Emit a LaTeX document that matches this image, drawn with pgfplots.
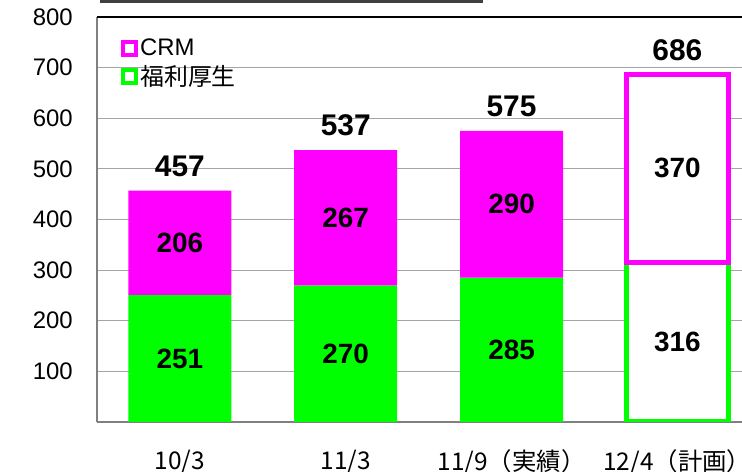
\documentclass[border=0pt]{standalone}
\usepackage{fontspec}
\setmainfont{Liberation Sans}
\newfontfamily\cjk{Noto Sans CJK JP}
\usepackage{pgfplots}
\usepackage{pgfplotstable}
\pgfplotsset{compat=1.18}
\definecolor{mag}{RGB}{255,0,255}
\definecolor{grn}{RGB}{0,255,0}
\definecolor{gridgray}{RGB}{165,165,165}
\definecolor{axgray}{RGB}{128,128,128}
\definecolor{topgray}{RGB}{64,64,64}
\pgfplotsset{/pgf/number format/assume math mode=true}

\pgfplotstableread{
x gF gO cF cO green crm total
0 251 0 206 0 251 206 457
1 270 0 267 0 270 267 537
2 285 0 290 0 285 290 575
3 0 316 0 370 316 370 686
}\data

\pgfplotsset{
  common/.style={
    at={(97bp,50bp)}, anchor=south west,
    scale only axis, width=645bp, height=405bp,
    xmin=-0.5, xmax=3.39, ymin=0, ymax=800,
  }
}

\begin{document}
\begin{tikzpicture}
\begin{axis}[
  common,
  ybar stacked, stacked ignores zero, reverse stacked plots=false,
  axis x line*=bottom, axis y line*=left,
  x axis line style={axgray, line width=1.5bp, -},
  y axis line style={axgray, line width=1.5bp, -},
  ymajorgrids, major grid style={gridgray, line width=1bp},
  major tick length=0,
  ytick={100,200,...,700},
  extra y ticks={800},
  extra y tick style={major grid style={black, line width=1.5bp}},
  yticklabel style={font=\fontsize{24}{24}\selectfont, inner sep=0pt, xshift=-24bp},
  xtick={0,1,2,3},
  xticklabels={10/3,11/3,11/9（実績）,12/4（計画）},
  xticklabel style={font=\cjk\fontsize{24.5}{24.5}\selectfont, anchor=center, yshift=-40bp},
  legend image code/.code={\draw[#1, line width=4bp, fill=white] (0bp,-6.5bp) rectangle (13bp,6.5bp);},
  legend style={at={(0,1)}, anchor=north west, xshift=24bp, yshift=-20bp,
    draw=none, fill=none, inner sep=0pt, row sep=4bp,
    font=\fontsize{24}{24}\selectfont,
    nodes={inner sep=2bp}},
  legend cell align=left,
]
\addplot[fill=grn, draw=none, bar width=103bp, forget plot] table[x=x, y=gF] {\data};
\addplot[fill=white, draw=grn, line width=5bp, bar width=102bp, forget plot] table[x=x, y=gO] {\data};
\addplot[fill=mag, draw=none, bar width=103bp, forget plot] table[x=x, y=cF] {\data};
\addplot[fill=white, draw=mag, line width=5bp, bar width=102bp, forget plot] table[x=x, y=cO] {\data};
\addlegendimage{draw=mag}
\addlegendentry{CRM}
\addlegendimage{draw=grn}
\addlegendentry{\cjk 福利厚生}
\end{axis}
\begin{axis}[
  common, hide axis, clip=false,
  nodes near coords align={anchor=center},
]
\addplot[draw=none, mark=none, nodes near coords, point meta=explicit,
  every node near coord/.append style={font=\bfseries\fontsize{28}{28}\selectfont, inner sep=0pt, anchor=center}]
  table[x=x, y expr=\thisrow{green}/2, meta=green] {\data};
\addplot[draw=none, mark=none, nodes near coords, point meta=explicit,
  every node near coord/.append style={font=\bfseries\fontsize{28}{28}\selectfont, inner sep=0pt, anchor=center}]
  table[x=x, y expr=\thisrow{green}+\thisrow{crm}/2, meta=crm] {\data};
\addplot[draw=none, mark=none, nodes near coords, point meta=explicit,
  every node near coord/.append style={font=\bfseries\fontsize{30}{30}\selectfont, inner sep=0pt, anchor=south, yshift=14bp}]
  table[x=x, y=total, meta=total] {\data};
\end{axis}
\fill[topgray] (100bp,469bp) rectangle (483bp,472bp);
\pgfresetboundingbox
\useasboundingbox (0,0) rectangle (742bp,472bp);
\end{tikzpicture}
\end{document}
